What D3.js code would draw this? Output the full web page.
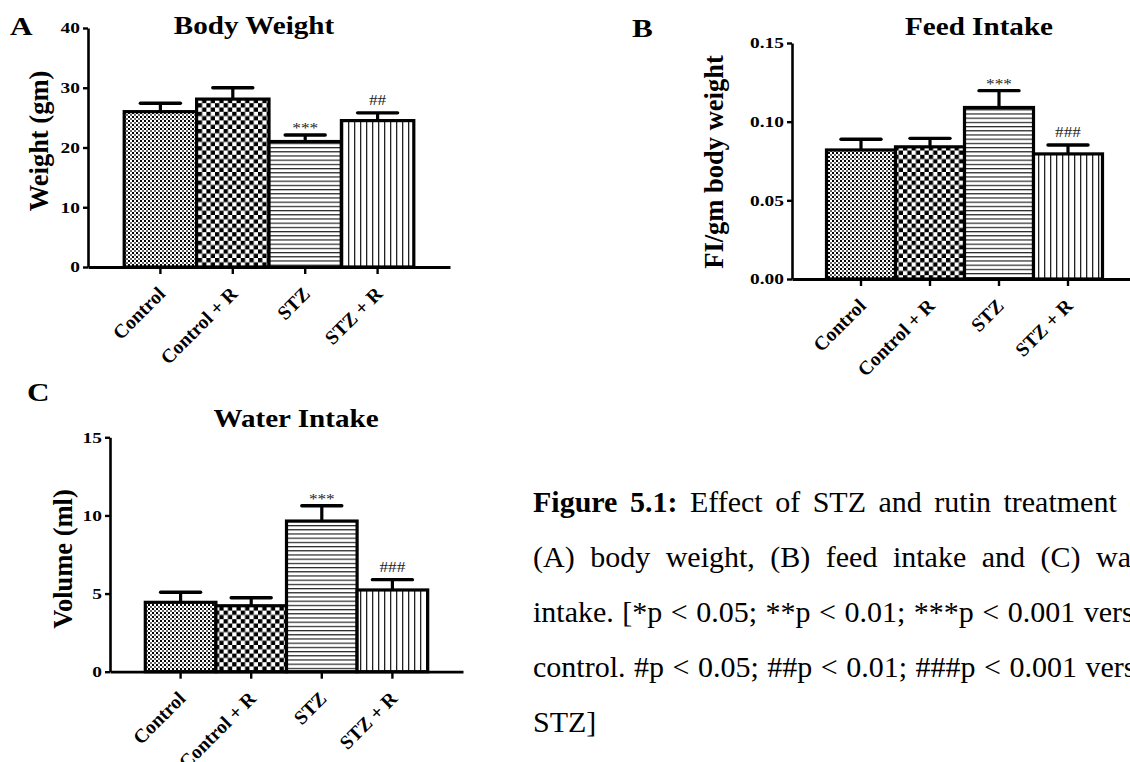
<!DOCTYPE html>
<html>
<head>
<meta charset="utf-8">
<script src="https://cdn.jsdelivr.net/npm/d3@7"></script>
<style>
  body { margin: 0; background: #fff; }
  svg { display: block; font-family: 'Liberation Serif', 'Times New Roman', serif; }
</style>
</head>
<body>
<div id="wrapper"></div>
<script>
const categories = ['Control', 'Control + R', 'STZ', 'STZ + R']

const weightMean = [26.0, 28.1, 21.0, 24.5]
const weightSem = [1.4, 1.9, 1.1, 1.3]
const weightMarks = ['', '', '***', '##']
const weightTicks = [0, 10, 20, 30, 40]

const feedMean = [0.082, 0.084, 0.109, 0.0795]
const feedSem = [0.0068, 0.0054, 0.0107, 0.0057]
const feedMarks = ['', '', '***', '###']
const feedTicks = [0, 0.05, 0.10, 0.15]

const waterMean = [4.44, 4.22, 9.64, 5.23]
const waterSem = [0.64, 0.51, 0.98, 0.66]
const waterMarks = ['', '', '***', '###']
const waterTicks = [0, 5, 10, 15]

const captionLines = [
    [['Figure 5.1:', true], [' Effect of STZ and rutin treatment on', false]],
    [['(A) body weight, (B) feed intake and (C) water', false]],
    [['intake. [*p < 0.05; **p < 0.01; ***p < 0.001 versus', false]],
    [['control. #p < 0.05; ##p < 0.01; ###p < 0.001 versus', false]],
    [['STZ]', false]]
]
const captionSpacing = [5, 8, 1, 1, 0]

const wrapper = d3.select('#wrapper')
    .append('svg')
        .attr('width', 1130)
        .attr('height', 762)

const defs = wrapper.append('defs')

// fine checker (Control)
const p1 = defs.append('pattern').attr('id', 'fine').attr('patternUnits', 'userSpaceOnUse')
    .attr('width', 4).attr('height', 4)
p1.append('rect').attr('width', 4).attr('height', 4).attr('fill', '#fff')
p1.append('rect').attr('width', 2).attr('height', 2).attr('fill', '#000')
p1.append('rect').attr('x', 2).attr('y', 2).attr('width', 2).attr('height', 2).attr('fill', '#666')

// big checker (Control + R)
const p2 = defs.append('pattern').attr('id', 'checker').attr('patternUnits', 'userSpaceOnUse')
    .attr('width', 8.6).attr('height', 8.6)
p2.append('rect').attr('width', 8.6).attr('height', 8.6).attr('fill', '#fff')
p2.append('rect').attr('width', 4.3).attr('height', 4.3).attr('fill', '#000')
p2.append('rect').attr('x', 4.3).attr('y', 4.3).attr('width', 4.3).attr('height', 4.3).attr('fill', '#000')

// horizontal lines (STZ)
const p3 = defs.append('pattern').attr('id', 'hlines').attr('patternUnits', 'userSpaceOnUse')
    .attr('width', 8).attr('height', 4.2)
p3.append('rect').attr('width', 8).attr('height', 4.2).attr('fill', '#fff')
p3.append('rect').attr('y', 0).attr('width', 8).attr('height', 1.2).attr('fill', '#222')

// vertical lines (STZ + R)
const p4 = defs.append('pattern').attr('id', 'vlines').attr('patternUnits', 'userSpaceOnUse')
    .attr('width', 6).attr('height', 8)
p4.append('rect').attr('width', 6).attr('height', 8).attr('fill', '#fff')
p4.append('rect').attr('x', 0).attr('width', 1.3).attr('height', 8).attr('fill', '#222')

const fills = ['url(#fine)', 'url(#checker)', 'url(#hlines)', 'url(#vlines)']

function stretchText(sel, sx) {
    sel.attr('transform', 'scale(' + sx + ',1)')
}

function drawPanel(cfg) {
    const g = wrapper.append('g')

    const x = d3.scaleBand()
        .domain(categories)
        .range([cfg.left, cfg.right])
        .paddingInner(0)
        .paddingOuter(0.5)

    const y = d3.scaleLinear()
        .domain([0, cfg.ticks[cfg.ticks.length - 1]])
        .range([cfg.bottom, cfg.top])

    // bars
    g.selectAll('rect.bar')
        .data(cfg.mean)
        .join('rect')
            .attr('class', 'bar')
            .attr('x', (d, i) => x(categories[i]))
            .attr('y', d => y(d))
            .attr('width', x.bandwidth())
            .attr('height', d => y(0) - y(d))
            .attr('fill', (d, i) => fills[i])
            .attr('stroke', '#000')
            .attr('stroke-width', 3.2)

    // error bars (upper only)
    const cx = i => x(categories[i]) + x.bandwidth() / 2
    g.selectAll('line.stem')
        .data(cfg.mean)
        .join('line')
            .attr('x1', (d, i) => cx(i))
            .attr('x2', (d, i) => cx(i))
            .attr('y1', d => y(d))
            .attr('y2', (d, i) => y(d + cfg.sem[i]))
            .attr('stroke', '#000')
            .attr('stroke-width', 3.2)
    g.selectAll('line.cap')
        .data(cfg.mean)
        .join('line')
            .attr('x1', (d, i) => cx(i) - 20)
            .attr('x2', (d, i) => cx(i) + 20)
            .attr('y1', (d, i) => y(d + cfg.sem[i]))
            .attr('y2', (d, i) => y(d + cfg.sem[i]))
            .attr('stroke', '#000')
            .attr('stroke-width', 3.4)
            .attr('stroke-linecap', 'round')

    // significance marks
    g.selectAll('g.mark')
        .data(cfg.marks)
        .join('g')
            .attr('transform', (d, i) => 'translate(' + cx(i) + ',' + (y(cfg.mean[i] + cfg.sem[i]) - (d.startsWith('*') ? 2 : 8)) + ')')
        .append('text')
            .attr('text-anchor', 'middle')
            .attr('font-size', 15)
            .attr('fill', '#222')
            .text(d => d)
            .call(stretchText, 1.15)

    // y axis
    const yAxis = g.append('g')
        .attr('transform', 'translate(' + cfg.left + ',0)')
        .call(d3.axisLeft(y).tickValues(cfg.ticks).tickSize(5).tickSizeOuter(0).tickPadding(3)
            .tickFormat(cfg.format))
    yAxis.select('.domain').attr('stroke-width', 2.6)
    yAxis.selectAll('.tick line').attr('stroke-width', 2.4)
    yAxis.selectAll('.tick text')
        .attr('font-family', 'Liberation Serif')
        .attr('font-weight', 'bold')
        .attr('font-size', 15.5)
        .attr('fill', '#000')
        .attr('x', -6.5)
        .call(stretchText, 1.25)

    // x axis
    const xAxis = g.append('g')
        .attr('transform', 'translate(0,' + cfg.bottom + ')')
        .call(d3.axisBottom(x).tickSize(7).tickSizeOuter(0).tickFormat(''))
    xAxis.select('.domain').attr('stroke-width', 2.8)
    xAxis.selectAll('.tick line').attr('stroke-width', 2.4)

    // category labels
    g.selectAll('text.cat')
        .data(categories)
        .join('text')
            .attr('class', 'cat')
            .attr('text-anchor', 'end')
            .attr('font-weight', 'bold')
            .attr('font-size', 19.5)
            .attr('transform', d => 'translate(' + (x(d) + x.bandwidth() / 2 + 6) + ',' + (cfg.bottom + 28) + ') rotate(-45)')
            .text(d => d)

    // y title
    g.append('text')
        .attr('text-anchor', 'middle')
        .attr('font-weight', 'bold')
        .attr('font-size', 26.5)
        .attr('transform', 'translate(' + cfg.ytitleX + ',' + cfg.ytitleY + ') rotate(-90)')
        .text(cfg.ytitle)

    // chart title
    g.append('g')
        .attr('transform', 'translate(' + cfg.titleX + ',' + cfg.titleY + ')')
        .append('text')
            .attr('text-anchor', 'middle')
            .attr('font-weight', 'bold')
            .attr('font-size', 26)
            .text(cfg.title)
            .call(stretchText, 1.12)

    // panel letter
    g.append('g')
        .attr('transform', 'translate(' + cfg.letterX + ',' + cfg.letterY + ')')
        .append('text')
            .attr('font-weight', 'bold')
            .attr('font-size', 26)
            .text(cfg.letter)
            .call(stretchText, 1.2)
}

drawPanel({
    letter: 'A', letterX: 10, letterY: 35,
    title: 'Body Weight', titleX: 254, titleY: 34,
    ytitle: 'Weight (gm)', ytitleX: 48, ytitleY: 141,
    left: 88, right: 450, top: 28, bottom: 267,
    mean: weightMean, sem: weightSem, marks: weightMarks,
    ticks: weightTicks, format: d3.format('d')
})

drawPanel({
    letter: 'B', letterX: 632, letterY: 37,
    title: 'Feed Intake', titleX: 979, titleY: 35,
    ytitle: 'FI/gm body weight', ytitleX: 723, ytitleY: 162,
    left: 792, right: 1137, top: 43, bottom: 279,
    mean: feedMean, sem: feedSem, marks: feedMarks,
    ticks: feedTicks, format: d3.format('.2f')
})

drawPanel({
    letter: 'C', letterX: 27, letterY: 401,
    title: 'Water Intake', titleX: 296, titleY: 427,
    ytitle: 'Volume (ml)', ytitleX: 72, ytitleY: 559,
    left: 110, right: 463, top: 437.3, bottom: 671.7,
    mean: waterMean, sem: waterSem, marks: waterMarks,
    ticks: waterTicks, format: d3.format('d')
})

// caption
const caption = wrapper.append('g')
captionLines.forEach((line, i) => {
    const t = caption.append('text')
        .attr('x', 533)
        .attr('y', 512 + i * 55)
        .attr('font-size', 30)
        .attr('word-spacing', captionSpacing[i])
        .attr('fill', '#000')
    line.forEach(part => {
        t.append('tspan')
            .attr('font-weight', part[1] ? 'bold' : 'normal')
            .text(part[0])
    })
})
</script>
</body>
</html>
